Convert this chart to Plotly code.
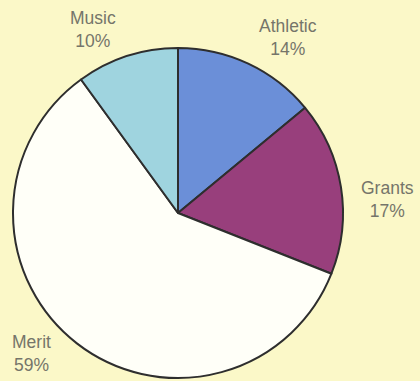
import plotly.graph_objects as go

categories = ["Athletic", "Grants", "Merit", "Music"]
values = [14, 17, 59, 10]
colors = ["#6b8fd8", "#983f7c", "#fffff8", "#9fd4df"]

W, H = 420, 381
cx, cy, r = 178, 213, 165

fig = go.Figure(go.Pie(
    labels=categories,
    values=values,
    sort=False,
    direction="clockwise",
    rotation=0,
    marker=dict(colors=colors, line=dict(color="#2e2e2e", width=2)),
    textinfo="none",
    hoverinfo="label+percent",
    showlegend=False,
    domain=dict(x=[(cx - r) / W, (cx + r) / W], y=[(H - cy - r) / H, (H - cy + r) / H]),
))

label_pos = {
    "Athletic": (288, 37),
    "Grants": (387, 199),
    "Merit": (31, 353),
    "Music": (93, 29),
}
for cat, v in zip(categories, values):
    px, py = label_pos[cat]
    fig.add_annotation(
        x=px / W, y=1 - py / H, xref="paper", yref="paper",
        text=f"{cat}<br>{v}%", showarrow=False,
        font=dict(family="Liberation Sans, Arial", size=17.5, color="#75756a"),
        xanchor="center", yanchor="middle", align="center",
    )

fig.update_layout(
    width=W, height=H,
    margin=dict(l=0, r=0, t=0, b=0),
    paper_bgcolor="#fbf8c8",
    plot_bgcolor="#fbf8c8",
)
fig.write_html(
    "out.html",
    config={"displayModeBar": False},
    post_script="document.body.style.margin='0';document.body.style.overflow='hidden';",
)
